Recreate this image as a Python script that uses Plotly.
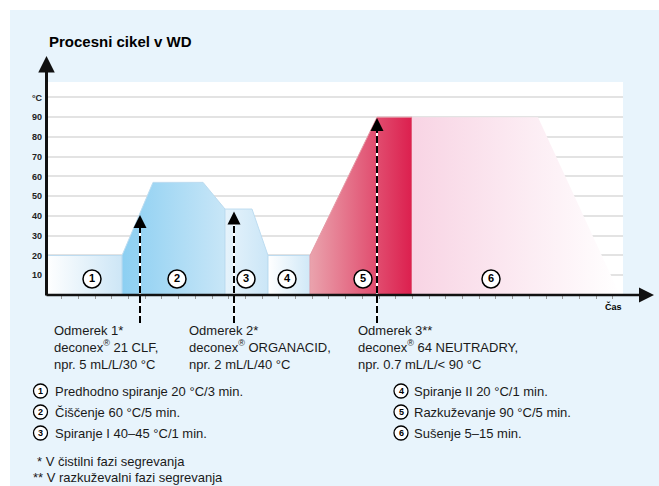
import plotly.graph_objects as go

W, H = 659, 486

# ---------------- data ----------------
phase_labels = ["1", "2", "3", "4", "5", "6"]
phase_x = [
    [0, 0, 7.6, 7.6],
    [7.6, 7.6, 10.7, 15.7, 17.9, 17.9],
    [17.9, 17.9, 20.6, 22.2, 22.2],
    [22.2, 22.2, 26.4, 26.4],
    [26.4, 26.4, 33.1, 36.6, 36.6],
    [36.6, 36.6, 49.2, 57.4],
]
phase_t = [
    [0, 20, 20, 0],
    [0, 20, 57, 57, 43.5, 0],
    [0, 43.5, 43.5, 20, 0],
    [0, 20, 20, 0],
    [0, 20, 90, 90, 0],
    [0, 90, 90, 0],
]
label_x = [4.6, 13.1, 20.0, 24.1, 31.7, 44.5]
label_t = [8.1, 8.1, 8.1, 8.1, 8.1, 8.1]

dose_x = [9.4, 18.8, 33.1]
dose_t = [40.5, 42.2, 89.6]
dose_texts = [
    "Odmerek 1*<br>deconex<sup>®</sup> 21 CLF,<br>npr. 5 mL/L/30 °C",
    "Odmerek 2*<br>deconex<sup>®</sup> ORGANACID,<br>npr. 2 mL/L/40 °C",
    "Odmerek 3**<br>deconex<sup>®</sup> 64 NEUTRADRY,<br>npr. 0.7 mL/L/< 90 °C",
]

y_tickvals = [10, 20, 30, 40, 50, 60, 70, 80, 90, 100]
y_ticktext = ["10", "20", "30", "40", "50", "60", "70", "80", "90", "°C"]

legend_left = [
    "Predhodno spiranje 20 °C/3 min.",
    "Čiščenje 60 °C/5 min.",
    "Spiranje I 40–45 °C/1 min.",
]
legend_right = [
    "Spiranje II 20 °C/1 min.",
    "Razkuževanje 90 °C/5 min.",
    "Sušenje 5–15 min.",
]
footnotes = ["* V čistilni fazi segrevanja", "** V razkuževalni fazi segrevanja"]
title_text = "Procesni cikel v WD"
x_title = "Čas"

# ---------------- styles ----------------
FONT = "Liberation Sans, Arial, sans-serif"
TXT = "#1a1a1a"
BG = "#e8f4fc"
phase_grad = [
    ["#ffffff", "#cde6f6"],
    ["#8ccff2", "#c8e6f7"],
    ["#e6f3fb", "#cbe6f7"],
    ["#ffffff", "#d0e8f7"],
    ["#eaa3ad", "#dc1f4e"],
    ["#f8d4e4", "#ffffff"],
]
phase_line = ["#bddcf0", "#bddcf0", "#bddcf0", "#bddcf0", "#e59aa6", "rgba(0,0,0,0)"]

X_MAX = 57.7
Y_MAX = 107.8
xdom = [46 / W, 623 / W]
ydom = [(H - 295) / H, (H - 82) / H]


def px(x):
    return x / W


def py(y):
    return 1 - y / H


fig = go.Figure()

for i in range(len(phase_x)):
    fig.add_trace(go.Scatter(
        x=phase_x[i], y=phase_t[i], mode="lines", fill="toself",
        fillgradient=dict(type="horizontal",
                          colorscale=[[0, phase_grad[i][0]], [1, phase_grad[i][1]]]),
        line=dict(color=phase_line[i], width=1),
        hoverinfo="skip", showlegend=False,
    ))

shapes = []
shapes.append(dict(type="rect", xref="paper", yref="paper", x0=px(10), x1=1, y0=0, y1=py(10),
                   fillcolor=BG, line=dict(width=0), layer="below"))
shapes.append(dict(type="rect", xref="x domain", yref="y domain", x0=0, x1=1, y0=0, y1=1,
                   fillcolor="white", line=dict(width=0), layer="below"))
# dashed dosing lines (white under, black dashes over)
for xv, tv in zip(dose_x, dose_t):
    for col, dash in (("white", "solid"), ("black", "7px,3px")):
        shapes.append(dict(type="line", xref="x", yref="y domain", x0=xv, x1=xv,
                           y0=-0.131, y1=tv / Y_MAX - 0.01,
                           line=dict(color=col, width=2, dash=dash), layer="above"))

# phase number circles
fig.add_trace(go.Scatter(
    x=label_x, y=label_t, mode="markers+text",
    marker=dict(size=18, color="white", line=dict(color="black", width=1.5)),
    text=["<b>%s</b>" % s for s in phase_labels], textposition="middle center",
    textfont=dict(family=FONT, size=11, color="black"),
    hoverinfo="skip", showlegend=False, cliponaxis=False,
))

annotations = []
# arrowheads of dosing lines
for xv, tv in zip(dose_x, dose_t):
    annotations.append(dict(x=xv, y=tv, xref="x", yref="y", ax=0, ay=12, text="",
                            showarrow=True, arrowhead=2, arrowsize=1.3, arrowwidth=2,
                            arrowcolor="black", standoff=0))
# axes with arrows
annotations.append(dict(x=px(46.5), y=py(56), xref="paper", yref="paper", ax=0, ay=241,
                        text="", showarrow=True, arrowhead=2, arrowsize=1.1, arrowwidth=3,
                        arrowcolor="#111", standoff=0))
annotations.append(dict(x=px(654), y=py(295), xref="paper", yref="paper", ax=-609, ay=0,
                        text="", showarrow=True, arrowhead=2, arrowsize=1.2, arrowwidth=2.5,
                        arrowcolor="#111", standoff=0))
# title & axis label
annotations.append(dict(x=px(47), y=py(42), xref="paper", yref="paper", xanchor="left",
                        yanchor="middle", text="<b>%s</b>" % title_text, showarrow=False,
                        font=dict(family=FONT, size=15, color="black")))
annotations.append(dict(x=px(613), y=py(306), xref="paper", yref="paper", xanchor="center",
                        yanchor="middle", text="<b>%s</b>" % x_title, showarrow=False,
                        font=dict(family=FONT, size=9, color="black")))
# dosing texts
for xp, t in zip([52, 187, 356], dose_texts):
    annotations.append(dict(x=px(xp), y=py(321), xref="paper", yref="paper", xanchor="left",
                            yanchor="top", align="left", text=t, showarrow=False,
                            font=dict(family=FONT, size=13, color=TXT)))
# legend rows
rows_y = [391, 412, 433]
for col_items, cx, tx, start in ((legend_left, 40.5, 53, 1), (legend_right, 401, 412, 4)):
    for k, (t, ry) in enumerate(zip(col_items, rows_y)):
        shapes.append(dict(type="circle", xref="paper", yref="paper",
                           xsizemode="pixel", ysizemode="pixel",
                           xanchor=px(cx), yanchor=py(ry), x0=-7, x1=7, y0=-7, y1=7,
                           fillcolor="white", line=dict(color="black", width=1.3)))
        annotations.append(dict(x=px(cx), y=py(ry), xref="paper", yref="paper",
                                xanchor="center", yanchor="middle",
                                text="<b>%d</b>" % (start + k), showarrow=False,
                                font=dict(family=FONT, size=9, color="black")))
        annotations.append(dict(x=px(tx), y=py(ry), xref="paper", yref="paper",
                                xanchor="left", yanchor="middle", text=t, showarrow=False,
                                font=dict(family=FONT, size=13, color=TXT)))
for t, (fx, fy) in zip(footnotes, [(35, 461), (31, 477)]):
    annotations.append(dict(x=px(fx), y=py(fy), xref="paper", yref="paper",
                            xanchor="left", yanchor="middle", text=t, showarrow=False,
                            font=dict(family=FONT, size=13, color=TXT)))

fig.update_layout(
    width=W, height=H, margin=dict(l=0, r=0, t=0, b=0),
    paper_bgcolor="white", plot_bgcolor="rgba(0,0,0,0)",
    shapes=shapes, annotations=annotations, showlegend=False,
    xaxis=dict(domain=xdom, range=[0, X_MAX], showgrid=False, zeroline=False,
               showline=False, showticklabels=False, ticks="outside", ticklen=3,
               tickcolor="#999", tickwidth=1, tick0=1.57, dtick=1.67, fixedrange=True),
    yaxis=dict(domain=ydom, range=[0, Y_MAX], showgrid=True, gridcolor="#e3e3e3",
               gridwidth=2, zeroline=False, showline=False, tickvals=y_tickvals,
               ticktext=["<b>%s</b>" % s for s in y_ticktext], ticks="",
               tickfont=dict(family=FONT, size=9, color="#222"), ticklabelstandoff=3,
               fixedrange=True),
)

fig.write_html(
    "out.html",
    config={"displayModeBar": False},
    post_script="document.body.style.margin='0px';document.body.style.overflow='hidden';",
)
